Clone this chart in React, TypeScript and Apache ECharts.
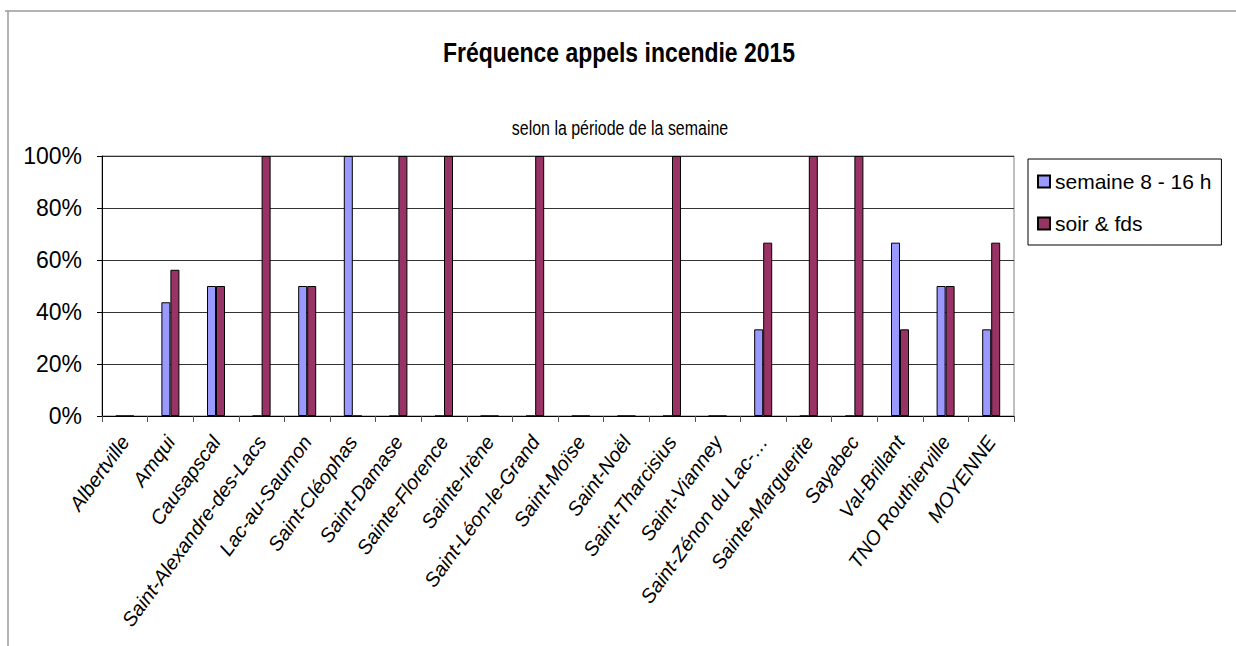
import React, { useEffect, useRef } from 'react';
import * as echarts from 'echarts';

const categories = [
  'Albertville',
  'Amqui',
  'Causapscal',
  'Saint-Alexandre-des-Lacs',
  'Lac-au-Saumon',
  'Saint-Cléophas',
  'Saint-Damase',
  'Sainte-Florence',
  'Sainte-Irène',
  'Saint-Léon-le-Grand',
  'Saint-Moïse',
  'Saint-Noël',
  'Saint-Tharcisius',
  'Saint-Vianney',
  'Saint-Zénon du Lac-…',
  'Sainte-Marguerite',
  'Sayabec',
  'Val-Brillant',
  'TNO Routhierville',
  'MOYENNE',
];

const semaine = [0, 43.75, 50, 0, 50, 100, 0, 0, 0, 0, 0, 0, 0, 0, 33.33, 0, 0, 66.67, 50, 33.33];
const soir = [0, 56.25, 50, 100, 50, 0, 100, 100, 0, 100, 0, 0, 100, 0, 66.67, 100, 100, 33.33, 50, 66.67];

const seriesNames = ['semaine 8 - 16 h', 'soir & fds'];
const titleText = 'Fréquence appels incendie 2015';
const subtitleText = 'selon la période de la semaine';

const SANS = "'Liberation Sans', Arial, sans-serif";

export default function App() {
  const ref = useRef<HTMLDivElement>(null);
  useEffect(() => {
    const chart = echarts.init(ref.current!, null, { renderer: 'svg' });
    chart.setOption({
      animation: false,
      backgroundColor: '#ffffff',
      graphic: [
        { type: 'line', shape: { x1: 5, y1: 11, x2: 1236, y2: 11 }, style: { stroke: '#9a9a9a', lineWidth: 1.5 } },
        { type: 'line', shape: { x1: 8, y1: 11, x2: 8, y2: 646 }, style: { stroke: '#9a9a9a', lineWidth: 1.5 } },
        {
          type: 'text',
          x: 619,
          y: 52,
          scaleX: 0.82,
          style: {
            text: titleText,
            fontFamily: SANS,
            fontSize: 28,
            fontWeight: 'bold',
            fill: '#000',
            textAlign: 'center',
            textVerticalAlign: 'middle',
          },
        },
        {
          type: 'text',
          x: 620,
          y: 128,
          scaleX: 0.76,
          style: {
            text: subtitleText,
            fontFamily: SANS,
            fontSize: 21,
            fill: '#000',
            textAlign: 'center',
            textVerticalAlign: 'middle',
          },
        },
      ],
      legend: {
        orient: 'vertical',
        left: 1028,
        top: 159,
        padding: [12, 10, 11, 9],
        itemGap: 21,
        itemWidth: 12,
        itemHeight: 12,
        itemTextGap: 6,
        icon: 'rect',
        borderColor: '#000',
        borderWidth: 1,
        textStyle: { fontFamily: SANS, fontSize: 21, color: '#000' },
        data: seriesNames,
      },
      grid: {
        left: 102,
        right: 222,
        top: 156,
        bottom: 230,
        show: true,
        borderColor: '#808080',
        borderWidth: 1,
      },
      xAxis: {
        type: 'category',
        data: categories,
        axisLine: { lineStyle: { color: '#000', width: 1 } },
        axisTick: { show: true, length: 6, lineStyle: { color: '#555' } },
        axisLabel: {
          interval: 0,
          rotate: 54,
          margin: 22,
          fontFamily: SANS,
          fontStyle: 'italic',
          fontSize: 20,
          color: '#000',
        },
      },
      yAxis: {
        type: 'value',
        min: 0,
        max: 100,
        interval: 20,
        axisLine: { show: true, lineStyle: { color: '#000', width: 1 } },
        axisTick: { show: true, length: 5, lineStyle: { color: '#000' } },
        splitLine: { lineStyle: { color: '#333', width: 1 } },
        axisLabel: {
          formatter: '{value}%',
          margin: 20,
          fontFamily: SANS,
          fontSize: 23,
          color: '#000',
        },
      },
      series: [
        {
          name: seriesNames[0],
          type: 'bar',
          data: semaine,
          barWidth: 9,
          barGap: '0%',
          itemStyle: { color: '#9999FF', borderColor: '#000', borderWidth: 1 },
        },
        {
          name: seriesNames[1],
          type: 'bar',
          data: soir,
          barWidth: 9,
          barGap: '0%',
          itemStyle: { color: '#993366', borderColor: '#000', borderWidth: 1 },
        },
      ],
    });
    return () => chart.dispose();
  }, []);
  return (
    <div
      ref={ref}
      style={{ position: 'absolute', left: 0, top: 0, width: 1236, height: 646, background: '#fff' }}
    />
  );
}
